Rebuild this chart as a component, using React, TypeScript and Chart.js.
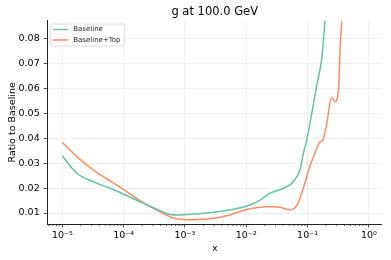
import React, { useEffect, useRef } from "react";
import { Chart, registerables } from "chart.js";

Chart.register(...registerables);

// ---- data ----
const baselineX = [
  1e-5, 1.72e-5, 3.21e-5, 6.0e-5, 9.9e-5, 1.85e-4, 3.47e-4, 5.71e-4, 7.35e-4,
  1.21e-3, 2.91e-3, 6.17e-3, 1.15e-2, 1.68e-2, 2.44e-2, 4.03e-2, 5.86e-2,
  7.57e-2, 8.55e-2, 9.7e-2, 0.107, 0.141, 0.171, 0.193, 0.209,
];
const baselineY = [
  0.0328, 0.0259, 0.0225, 0.0199, 0.0176, 0.0145, 0.0115, 0.0094, 0.0092,
  0.0095, 0.0103, 0.0115, 0.0132, 0.0152, 0.0179, 0.0199, 0.0225,
  0.0275, 0.0339, 0.0392, 0.0445, 0.061, 0.072, 0.087, 0.096,
];
const topX = [
  1e-5, 1.72e-5, 3.21e-5, 6.0e-5, 9.9e-5, 1.85e-4, 3.47e-4, 6.47e-4,
  1.07e-3, 2.26e-3, 4.81e-3, 1.02e-2, 2.16e-2, 2.77e-2, 3.55e-2, 5.16e-2,
  6.67e-2, 8.55e-2, 0.107, 0.138, 0.156, 0.177, 0.2, 0.247, 0.281, 0.319,
  0.34, 0.361, 0.38,
];
const topY = [
  0.0382, 0.0326, 0.0272, 0.0229, 0.0195, 0.015, 0.0112, 0.008,
  0.0073, 0.0076, 0.0089, 0.0114, 0.0125, 0.0125, 0.0123, 0.0113,
  0.013, 0.02, 0.028, 0.0352, 0.0382, 0.0392, 0.044, 0.0562, 0.0545, 0.059,
  0.076, 0.087, 0.097,
];
const seriesLabels = ["Baseline", "Baseline+Top"];
const seriesColors = ["#66c2a5", "#fc8d62"];
const yTickValues = [0.01, 0.02, 0.03, 0.04, 0.05, 0.06, 0.07, 0.08];
const xMajorExponents = [-5, -4, -3, -2, -1, 0];
const titleText = "g at 100.0 GeV";
const xAxisLabel = "x";
const yAxisLabel = "Ratio to Baseline";

const FONT = "'DejaVu Sans', sans-serif";
const SUP: Record<string, string> = {
  "-": "\u207B", "0": "\u2070", "1": "\u00B9", "2": "\u00B2", "3": "\u00B3",
  "4": "\u2074", "5": "\u2075", "6": "\u2076", "7": "\u2077", "8": "\u2078", "9": "\u2079",
};
const supLabel = (e: number) =>
  "10" + String(e).split("").map((c) => SUP[c] || c).join("");

const decorPlugin = {
  id: "decor",
  afterDraw(chart: any) {
    const { ctx, chartArea, scales } = chart;
    const xs = scales.x;
    ctx.save();
    // minor x ticks
    ctx.strokeStyle = "#222";
    ctx.lineWidth = 0.7;
    xs.ticks.forEach((t: any) => {
      if (!t.major) {
        const px = xs.getPixelForValue(t.value);
        ctx.beginPath();
        ctx.moveTo(px, chartArea.bottom);
        ctx.lineTo(px, chartArea.bottom + 2);
        ctx.stroke();
      }
    });
    // title
    const cx = (chartArea.left + chartArea.right) / 2;
    ctx.fillStyle = "#000";
    ctx.textAlign = "center";
    ctx.textBaseline = "alphabetic";
    ctx.font = `11.5px ${FONT}`;
    ctx.fillText(titleText, cx, 15);
    // x label
    ctx.font = `9.5px ${FONT}`;
    ctx.fillText(xAxisLabel, cx, 251);
    // y label
    ctx.save();
    ctx.translate(14.5, (chartArea.top + chartArea.bottom) / 2);
    ctx.rotate(-Math.PI / 2);
    ctx.fillText(yAxisLabel, 0, 0);
    ctx.restore();
    // legend
    const lx = chartArea.left + 3;
    const ly = chartArea.top + 3.3;
    const lw = 73.6;
    const lh = 22;
    ctx.beginPath();
    if ((ctx as any).roundRect) (ctx as any).roundRect(lx, ly, lw, lh, 2);
    else ctx.rect(lx, ly, lw, lh);
    ctx.fillStyle = "rgba(255,255,255,0.8)";
    ctx.fill();
    ctx.strokeStyle = "#d0d0d0";
    ctx.lineWidth = 0.8;
    ctx.stroke();
    ctx.font = `7px ${FONT}`;
    ctx.textAlign = "left";
    ctx.textBaseline = "middle";
    seriesLabels.forEach((lab, i) => {
      const yy = ly + 5.5 + i * 10.5;
      ctx.strokeStyle = seriesColors[i];
      ctx.lineWidth = 1.5;
      ctx.beginPath();
      ctx.moveTo(lx + 2, yy);
      ctx.lineTo(lx + 17.5, yy);
      ctx.stroke();
      ctx.fillStyle = "#222";
      ctx.fillText(lab, lx + 22.5, yy);
    });
    ctx.restore();
  },
};

export default function App() {
  const ref = useRef<HTMLCanvasElement | null>(null);
  useEffect(() => {
    if (!ref.current) return;
    const chart = new Chart(ref.current, {
      type: "line",
      data: {
        datasets: [
          {
            label: seriesLabels[0],
            data: baselineX.map((x, i) => ({ x, y: baselineY[i] })),
            borderColor: seriesColors[0],
            backgroundColor: seriesColors[0],
            borderWidth: 1.5,
            pointRadius: 0,
            cubicInterpolationMode: "monotone",
          },
          {
            label: seriesLabels[1],
            data: topX.map((x, i) => ({ x, y: topY[i] })),
            borderColor: seriesColors[1],
            backgroundColor: seriesColors[1],
            borderWidth: 1.5,
            pointRadius: 0,
            cubicInterpolationMode: "monotone",
          },
        ],
      },
      options: {
        responsive: false,
        animation: false,
        devicePixelRatio: 1,
        layout: { padding: { left: 0, right: 9.3, top: 20.7, bottom: 0 } },
        plugins: {
          legend: { display: false },
          title: { display: false },
          tooltip: { enabled: false },
        },
        scales: {
          x: {
            type: "logarithmic",
            min: Math.pow(10, -5.24),
            max: Math.pow(10, 0.21),
            afterBuildTicks: (scale: any) => {
              const ticks: any[] = [];
              for (let e = -6; e <= 0; e++) {
                for (let m = 1; m <= 9; m++) {
                  const v = m * Math.pow(10, e);
                  if (v >= scale.min && v <= scale.max)
                    ticks.push({ value: v, major: m === 1 && xMajorExponents.includes(e) });
                }
              }
              scale.ticks = ticks;
            },
            afterFit: (scale: any) => {
              scale.height = 36;
              scale.paddingLeft = 0;
              scale.paddingRight = 0;
            },
            grid: {
              color: (c: any) => (c.tick && c.tick.major ? "#ebebeb" : "rgba(0,0,0,0)"),
              tickColor: (c: any) => (c.tick && c.tick.major ? "#222" : "rgba(0,0,0,0)"),
              lineWidth: 0.8,
              tickLength: 3.5,
              drawTicks: true,
            },
            border: { display: true, color: "#222", width: 1 },
            ticks: {
              autoSkip: false,
              maxRotation: 0,
              minRotation: 0,
              padding: 2,
              color: "#000",
              font: { family: FONT, size: 9.5 },
              callback: (value: any, index: number, ticks: any[]) =>
                ticks[index] && ticks[index].major
                  ? supLabel(Math.round(Math.log10(Number(value))))
                  : "",
            },
          },
          y: {
            type: "linear",
            min: 0.0056,
            max: 0.087,
            afterBuildTicks: (scale: any) => {
              scale.ticks = yTickValues.map((v) => ({ value: v }));
            },
            afterFit: (scale: any) => {
              scale.width = 47.7;
              scale.paddingTop = 0;
              scale.paddingBottom = 0;
            },
            grid: {
              color: "#ebebeb",
              tickColor: "#222",
              lineWidth: 0.8,
              tickLength: 4,
            },
            border: { display: true, color: "#222", width: 1 },
            ticks: {
              padding: 4,
              color: "#000",
              font: { family: FONT, size: 9.5 },
              callback: (value: any) => Number(value).toFixed(2),
            },
          },
        },
      } as any,
      plugins: [decorPlugin],
    });
    return () => chart.destroy();
  }, []);
  return (
    <div style={{ position: "absolute", left: 0, top: 0, width: 391, height: 260, background: "#fff" }}>
      <canvas ref={ref} width={391} height={260} style={{ display: "block" }} />
    </div>
  );
}
